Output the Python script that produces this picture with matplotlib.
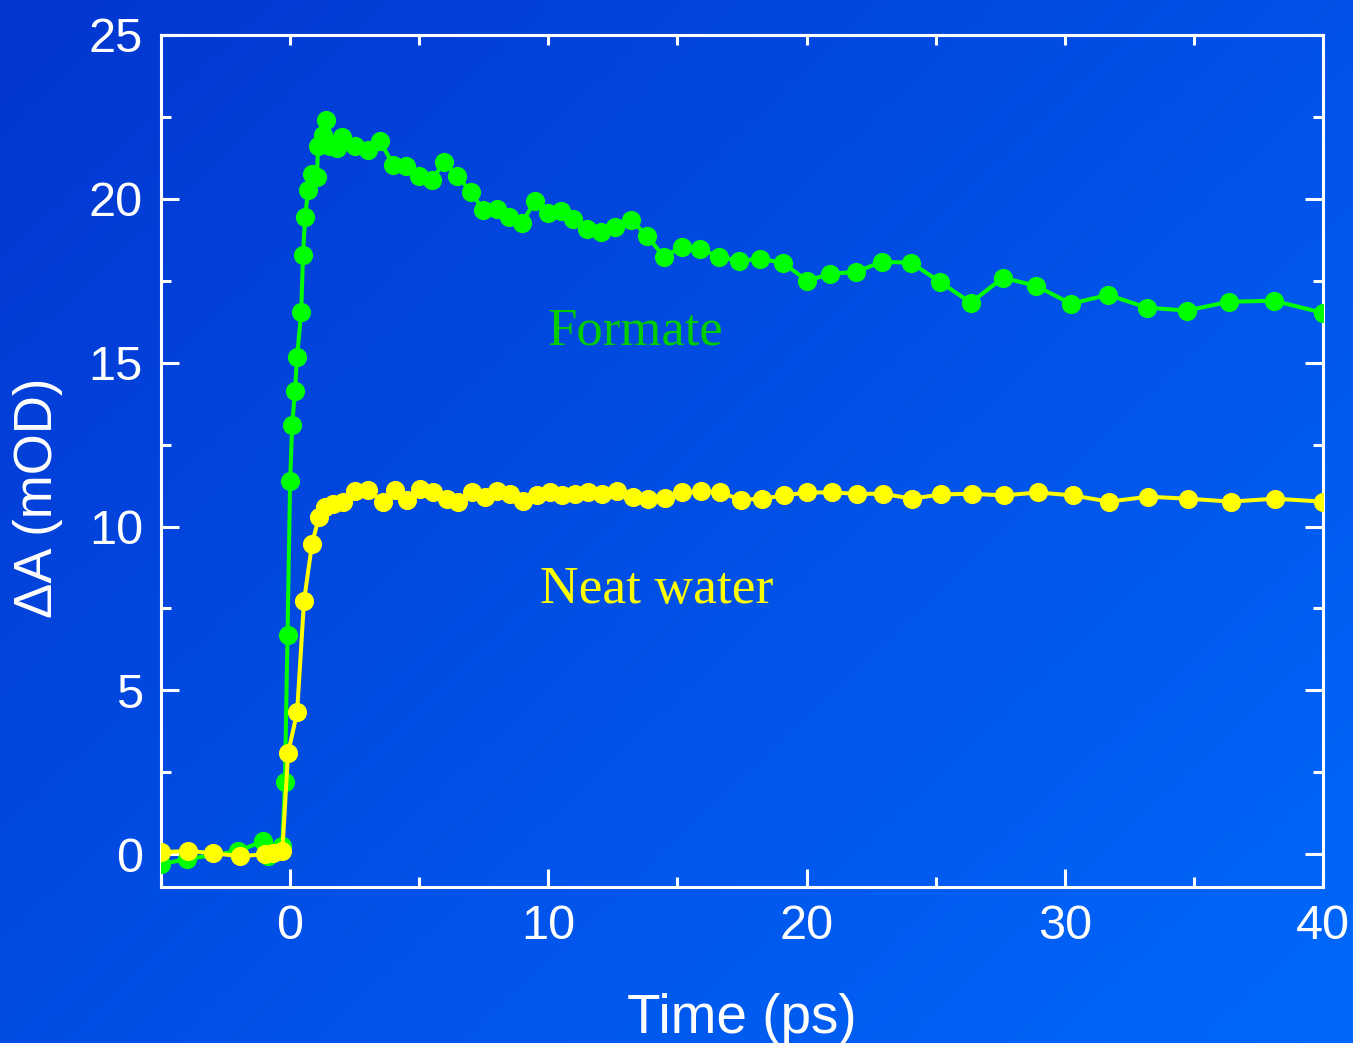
import numpy as np
import matplotlib
matplotlib.use("Agg")
import matplotlib.pyplot as plt
from matplotlib.ticker import MultipleLocator, NullFormatter

# Transient absorption kinetics: delay time (ps) vs. absorbance change (mOD)
t_formate = [-5.0, -4.0, -2.0, -1.05, -0.85, -0.55, -0.3, -0.2, -0.1, 0.0,
             0.08, 0.19, 0.27, 0.43, 0.5, 0.58, 0.7, 0.85, 1.04, 1.08,
             1.28, 1.39, 1.55, 1.82, 2.0, 2.5, 3.0, 3.48, 3.99, 4.49,
             4.99, 5.50, 5.96, 6.47, 7.01, 7.47, 8.01, 8.48, 8.98, 9.49,
             9.99, 10.49, 10.96, 11.50, 12.04, 12.58, 13.20, 13.82, 14.48, 15.18,
             15.87, 16.61, 17.38, 18.20, 19.09, 20.02, 20.91, 21.91, 22.92, 24.05,
             25.16, 26.36, 27.60, 28.88, 30.24, 31.67, 33.18, 34.73, 36.35, 38.10,
             40.0]
dA_formate = [-0.3, -0.15, 0.1, 0.4, -0.05, 0.1, 0.25, 2.2, 6.7, 11.4,
              13.1, 14.15, 15.18, 16.55, 18.29, 19.45, 20.27, 20.76, 20.67, 21.6,
              21.95, 22.4, 21.6, 21.55, 21.9, 21.6, 21.5, 21.77, 21.04, 21.0,
              20.7, 20.58, 21.13, 20.7, 20.21, 19.66, 19.70, 19.45, 19.27, 19.94,
              19.58, 19.64, 19.39, 19.09, 19.0, 19.15, 19.36, 18.87, 18.23, 18.54,
              18.48, 18.23, 18.11, 18.17, 18.05, 17.5, 17.71, 17.77, 18.08, 18.05,
              17.47, 16.83, 17.59, 17.35, 16.8, 17.07, 16.68, 16.59, 16.86, 16.89,
              16.52]

t_water = [-5.0, -3.95, -2.98, -1.94, -0.97, -0.66, -0.3, -0.08, 0.27, 0.54,
           0.85, 1.12, 1.36, 1.67, 2.06, 2.52, 3.02, 3.58, 4.07, 4.53,
           5.03, 5.54, 6.08, 6.5, 7.05, 7.55, 8.01, 8.52, 9.02, 9.56,
           10.07, 10.53, 11.03, 11.54, 12.08, 12.66, 13.28, 13.86, 14.52, 15.18,
           15.91, 16.65, 17.46, 18.27, 19.12, 20.01, 20.98, 21.95, 22.96, 24.08,
           25.2, 26.4, 27.64, 28.96, 30.31, 31.71, 33.22, 34.77, 36.43, 38.13,
           40.0]
dA_water = [0.06, 0.1, 0.03, -0.06, 0.0, 0.05, 0.1, 3.08, 4.33, 7.74,
            9.48, 10.3, 10.6, 10.7, 10.75, 11.08, 11.13, 10.76, 11.1, 10.82,
            11.16, 11.04, 10.85, 10.76, 11.04, 10.91, 11.07, 11.0, 10.79, 10.95,
            11.04, 10.95, 10.98, 11.04, 11.0, 11.07, 10.91, 10.85, 10.88, 11.04,
            11.07, 11.04, 10.82, 10.85, 10.95, 11.04, 11.04, 11.0, 11.0, 10.85,
            10.98, 11.0, 10.95, 11.04, 10.95, 10.76, 10.91, 10.85, 10.76, 10.85,
            10.76]

x_ticks = [0, 10, 20, 30, 40]
y_ticks = [0, 5, 10, 15, 20, 25]

GREEN = "#00ff00"
YELLOW = "#ffff00"
WHITE = "white"

fig = plt.figure(figsize=(13.53, 10.43), dpi=100)

# diagonal blue gradient backdrop
bg = fig.add_axes([0, 0, 1, 1], zorder=-10)
bg.set_axis_off()
gx, gy = np.meshgrid(np.linspace(0, 1, 400), np.linspace(0, 1, 300))
g = np.clip((gx * 0.55 + gy * 0.45), 0, 1)
c0 = np.array([3, 54, 208]) / 255.0
c1 = np.array([0, 104, 252]) / 255.0
img = c0[None, None, :] * (1 - g[..., None]) + c1[None, None, :] * g[..., None]
bg.imshow(img, aspect="auto", extent=[0, 1, 0, 1], origin="upper")
bg.set_xlim(0, 1)
bg.set_ylim(0, 1)

ax = fig.add_axes([161 / 1353, 156 / 1043, 1162 / 1353, 852 / 1043])
ax.set_facecolor("none")

ax.plot(t_formate, dA_formate, "-o", color=GREEN, lw=2.9, ms=13.8,
        mec=GREEN, mew=0, zorder=3)
ax.plot(t_water, dA_water, "-o", color=YELLOW, lw=2.9, ms=13.8,
        mec=YELLOW, mew=0, zorder=4)

ax.set_xlim(-5, 40)
ax.set_ylim(-1, 25)
ax.set_xticks(x_ticks)
ax.set_yticks(y_ticks)
ax.xaxis.set_minor_locator(MultipleLocator(5))
ax.yaxis.set_minor_locator(MultipleLocator(2.5))

for s in ax.spines.values():
    s.set_color(WHITE)
    s.set_linewidth(2.2)

tick_font = dict(family="Liberation Sans", size=35)
ax.tick_params(axis="both", which="both", direction="in", color=WHITE,
               labelcolor=WHITE, width=2.2)
ax.tick_params(axis="x", which="major", length=13, pad=12, top=False)
ax.tick_params(axis="x", which="minor", length=7, top=False)
ax.tick_params(axis="y", which="major", length=13, pad=13, right=True)
ax.tick_params(axis="y", which="minor", length=7, right=True)
for lab in ax.get_xticklabels() + ax.get_yticklabels():
    lab.set_fontfamily(tick_font["family"])
    lab.set_fontsize(tick_font["size"])

# short ticks along the top edge
top = ax.secondary_xaxis("top")
top.set_xticks([0, 5, 10, 15, 20, 25, 30, 35])
top.xaxis.set_major_formatter(NullFormatter())
top.tick_params(direction="in", length=7, width=2.2, color=WHITE)
top.spines["top"].set_color(WHITE)
top.spines["top"].set_linewidth(2.2)

ax.set_xlabel("Time (ps)", family="Liberation Sans", size=39.5, color=WHITE)
ax.xaxis.label.set_verticalalignment("center")
ax.xaxis.set_label_coords(0.5, -0.155)
ax.set_ylabel("\u0394A (mOD)", family="Liberation Sans", size=38, color=WHITE)
ax.yaxis.label.set_verticalalignment("center")
ax.yaxis.set_label_coords(-0.106, 0.457)

ax.text(9.95, 15.55, "Formate", family="Liberation Serif", size=38,
        color="#00cc00", ha="left", va="baseline")
ax.text(9.68, 7.68, "Neat water", family="Liberation Serif", size=38.5,
        color=YELLOW, ha="left", va="baseline")

fig.savefig("out.png", dpi=100)
